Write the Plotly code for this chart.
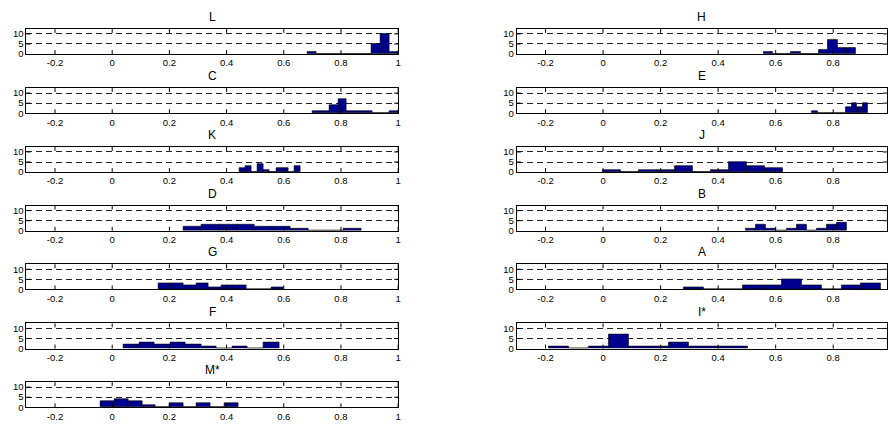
import plotly.graph_objects as go

# Panel names, laid out in two columns (left column first, top to bottom)
left_names = ["L", "C", "K", "D", "G", "F", "M*"]
right_names = ["H", "E", "J", "B", "A", "I*"]

# Each histogram: 10 equal-width bins starting at bin_start with width bin_width
bin_start = {
    "L": 0.681, "C": 0.699, "K": 0.444, "D": 0.250, "G": 0.163, "F": 0.039, "M*": -0.040,
    "H": 0.557, "E": 0.727, "J": 0.000, "B": 0.496, "A": 0.280, "I*": -0.188,
}
bin_width = {
    "L": 0.0320, "C": 0.0302, "K": 0.0215, "D": 0.0621, "G": 0.0437, "F": 0.0544, "M*": 0.048,
    "H": 0.0322, "E": 0.0194, "J": 0.0623, "B": 0.0352, "A": 0.0685, "I*": 0.0692,
}

counts_L = [1, 0, 0, 0, 0, 0, 0, 5, 10, 1]
counts_C = [1, 1, 4, 7, 1, 1, 1, 0, 0, 1]
counts_K = [2, 3, 0, 4, 1, 0, 2, 2, 0, 3]
counts_D = [2, 3, 3, 3, 2, 2, 1, 0, 0, 1]
counts_G = [3, 3, 2, 3, 1, 2, 2, 0, 0, 1]
counts_F = [2, 3, 2, 3, 2, 1, 0, 1, 0, 3]
counts_M = [3, 4, 3, 1, 0, 2, 0, 2, 0, 2]
counts_H = [1, 0, 0, 1, 0, 0, 2, 7, 3, 3]
counts_E = [1, 0, 0, 0, 0, 0, 3, 5, 3, 5]
counts_J = [1, 0, 1, 1, 3, 0, 1, 5, 3, 2]
counts_B = [1, 3, 1, 0, 1, 3, 0, 1, 3, 4]
counts_A = [1, 0, 0, 2, 2, 5, 2, 0, 2, 3]
counts_I = [1, 0, 1, 7, 1, 1, 3, 1, 1, 1]

counts = {
    "L": counts_L, "C": counts_C, "K": counts_K, "D": counts_D, "G": counts_G,
    "F": counts_F, "M*": counts_M, "H": counts_H, "E": counts_E, "J": counts_J,
    "B": counts_B, "A": counts_A, "I*": counts_I,
}

x_ticks = [-0.2, 0, 0.2, 0.4, 0.6, 0.8, 1]
x_ticktext = ["-0.2", "0", "0.2", "0.4", "0.6", "0.8", "1"]
y_ticks = [0, 5, 10]
y_ticktext = ["0", "5", "10"]

W, H = 890, 428
FONT = "Liberation Sans, Arial, Helvetica, sans-serif"
BAR_COLOR = "#00008f"

# pixel geometry of the panel grid
row_tops = [28.3, 88.3, 148.0, 207.5, 267.0, 327.0, 386.5]
panel_h = 25.5
col_x = {0: (26.5, 399.5), 1: (518.5, 890.0)}
col_range = {0: [-0.3, 1.0], 1: [-0.3, 0.987]}
TICK_PX = 4  # length of the inward tick marks

fig = go.Figure()
annotations = []
shapes = []

panels = [(n, 0, r) for r, n in enumerate(left_names)] + \
         [(n, 1, r) for r, n in enumerate(right_names)]

for i, (name, col, row) in enumerate(panels, start=1):
    w = bin_width[name]
    centers = [bin_start[name] + w * (k + 0.5) for k in range(len(counts[name]))]
    xa = "x" if i == 1 else f"x{i}"
    ya = "y" if i == 1 else f"y{i}"
    fig.add_trace(go.Bar(
        x=centers, y=counts[name], width=w,
        marker=dict(color=BAR_COLOR, line=dict(color="black", width=0.6)),
        xaxis=xa, yaxis=ya, showlegend=False, hoverinfo="skip",
    ))
    x0, x1 = col_x[col]
    top = row_tops[row]
    xdom = [x0 / W, x1 / W]
    ydom = [1 - (top + panel_h) / H, 1 - top / H]
    axis_common = dict(
        showline=True, linecolor="black", linewidth=1, mirror=True,
        ticks="", zeroline=False, layer="above traces",
        tickfont=dict(family=FONT, size=9.5, color="black"),
    )
    fig.layout[f"xaxis{i if i > 1 else ''}"] = dict(
        domain=xdom, range=col_range[col], anchor=ya,
        tickvals=x_ticks, ticktext=x_ticktext,
        showgrid=False, **axis_common,
    )
    fig.layout[f"yaxis{i if i > 1 else ''}"] = dict(
        domain=ydom, range=[0, 12.5], anchor=xa,
        tickvals=y_ticks, ticktext=y_ticktext,
        showgrid=True, gridcolor="#222222", gridwidth=0.8, griddash="6px,4px",
        **axis_common,
    )
    annotations.append(dict(
        text=name, x=(xdom[0] + xdom[1]) / 2, y=1 - (top - 12) / H,
        xref="paper", yref="paper", xanchor="center", yanchor="middle",
        showarrow=False, font=dict(family=FONT, size=12, color="black"),
    ))

    # inward tick marks on all four sides of the box
    fy = TICK_PX / panel_h
    fx = TICK_PX / (x1 - x0)
    tick_line = dict(color="black", width=1)
    for xv in x_ticks:
        if not (col_range[col][0] <= xv <= col_range[col][1]):
            continue
        for ya0, ya1 in ((0, fy), (1 - fy, 1)):
            shapes.append(dict(type="line", xref=xa, yref=f"{ya} domain",
                               x0=xv, x1=xv, y0=ya0, y1=ya1, line=tick_line))
    for yv in y_ticks[1:]:
        for xa0, xa1 in ((0, fx), (1 - fx, 1)):
            shapes.append(dict(type="line", xref=f"{xa} domain", yref=ya,
                               x0=xa0, x1=xa1, y0=yv, y1=yv, line=tick_line))

fig.update_layout(
    width=W, height=H, margin=dict(l=0, r=0, t=0, b=0),
    paper_bgcolor="white", plot_bgcolor="white",
    bargap=0, annotations=annotations, shapes=shapes,
)

fig.write_html("out.html")
